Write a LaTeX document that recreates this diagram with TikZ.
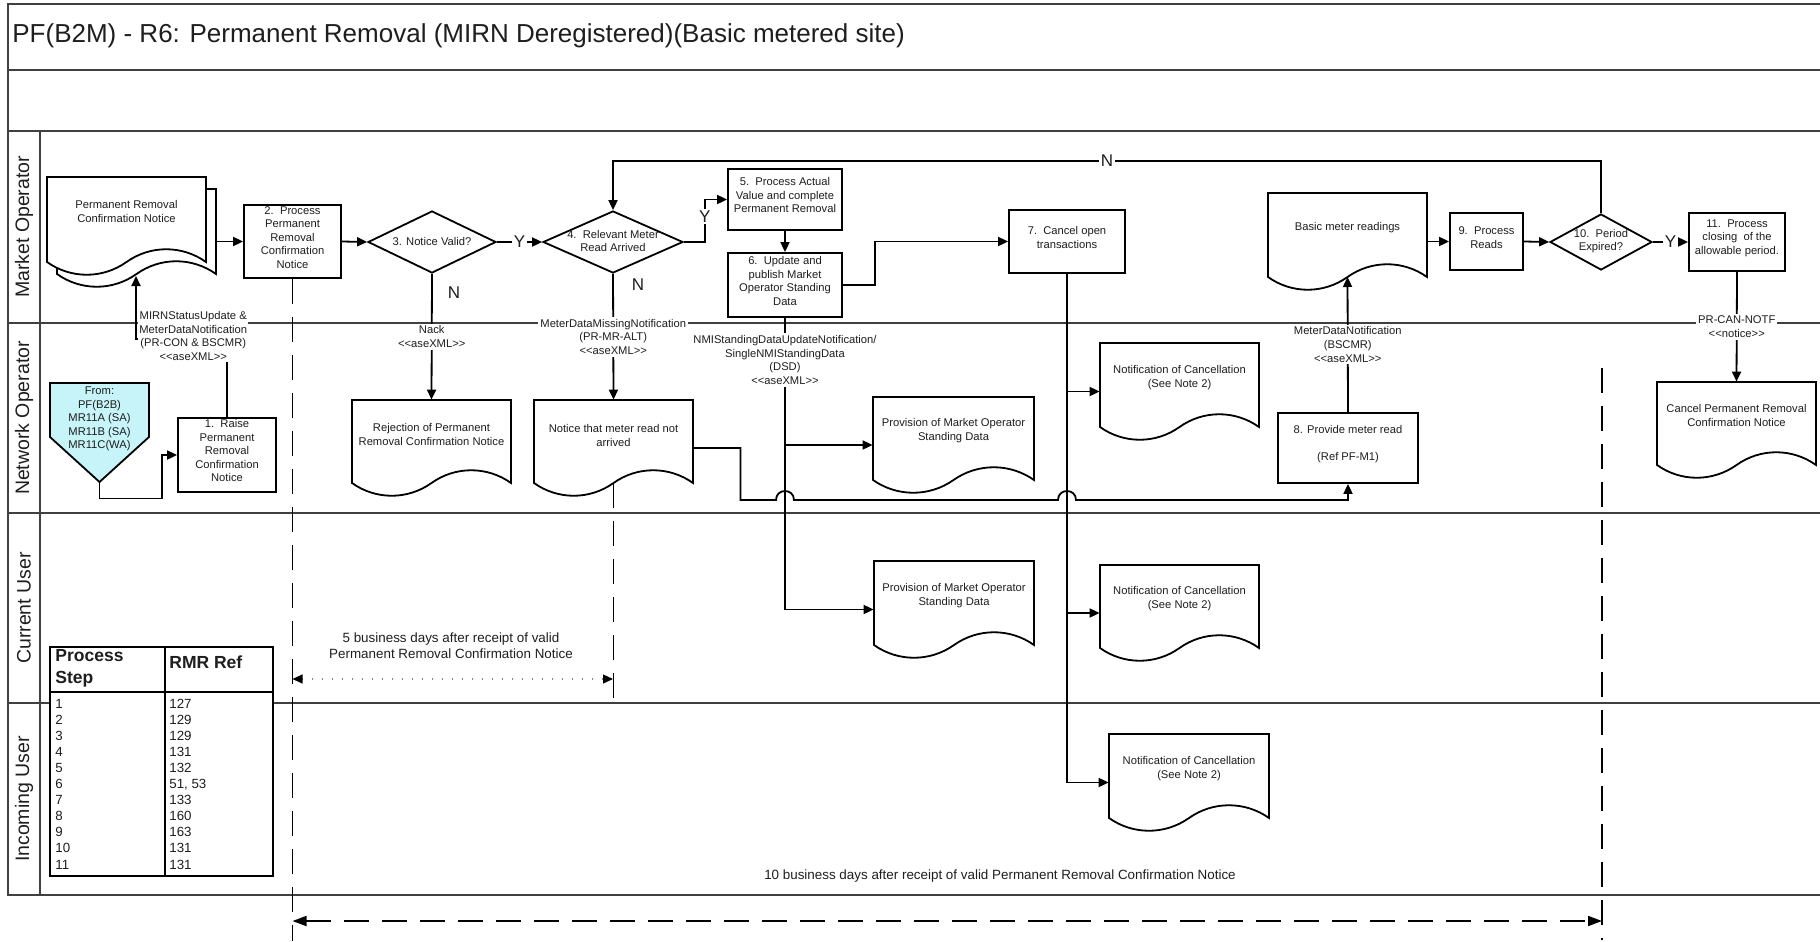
\documentclass[tikz,border=0pt]{standalone}
\usepackage{fontspec}
\setmainfont{Liberation Sans}
\usetikzlibrary{arrows.meta,shapes.geometric,fit,calc}
\definecolor{framegray}{RGB}{64,64,64}
\definecolor{offcyan}{RGB}{198,244,248}
\definecolor{txtc}{RGB}{30,30,30}
\newcommand\LL{<\kern0pt<}
\newcommand\GG{>\kern0pt>}
\newcommand\fTitle{\fontsize{13pt}{15pt}\selectfont}
\newcommand\fLane{\fontsize{9.75pt}{11pt}\selectfont}
\newcommand\fBox{\fontsize{5.6pt}{6.75pt}\selectfont}
\newcommand\fLbl{\fontsize{5.6pt}{6.85pt}\selectfont}
\newcommand\fDoc{\fontsize{5.6pt}{7pt}\selectfont}
\newcommand\fNote{\fontsize{6.7pt}{8pt}\selectfont}
\newcommand\fYN{\fontsize{8.5pt}{9pt}\selectfont}
\newcommand\fTh{\bfseries\fontsize{8.75pt}{11pt}\selectfont}
\newcommand\fTd{\fontsize{6.65pt}{8.05pt}\selectfont}
\tikzset{
  frameline/.style={line width=1.4pt, draw=framegray},
  shp/.style={draw=black, line width=0.9pt, fill=white},
  box/.style={shp, rectangle, inner sep=0pt, align=center, font=\fBox, text=txtc},
  dia/.style={shp, diamond, inner sep=0pt},
  dtxt/.style={inner sep=0pt, align=center, font=\fDoc, text=txtc},
  conn/.style={line width=0.9pt, draw=black},
  arr/.style={conn, -{Triangle[length=5pt,width=4.5pt]}},
  lbl/.style={fill=white, inner sep=1pt, align=center, font=\fLbl, text=txtc},
  yn/.style={fill=white, inner sep=1pt, font=\fYN, text=txtc},
  timeline/.style={line width=0.9pt, draw=black, dash pattern=on 12.5pt off 6.5pt},
  lane/.style={rotate=90, font=\fLane, text=txtc},
}
% name, x1, y1, x2, ybottom, text y, text
\newcommand\docu[7]{%
  \draw[shp] (#2,#3) -- (#4,#3) -- (#4,#5)
    .. controls ({#4-0.15*(#4-#2)},{#5-17}) and ({#4-0.35*(#4-#2)},{#5-17}) .. ({(#2+#4)/2},#5)
    .. controls ({#2+0.35*(#4-#2)},{#5+17}) and ({#2+0.15*(#4-#2)},{#5+17}) .. (#2,#5) -- cycle;
  \node[fit={(#2,#3) (#4,{#5+13})}, inner sep=0pt] (#1) {};
  \coordinate (#1-b) at ({(#2+#4)/2},#5);
  \node[dtxt] (#1-t) at ({(#2+#4)/2},#6) {#7};
}
\begin{document}
\begin{tikzpicture}[x=0.5pt,y=-0.5pt]
\useasboundingbox (0,0) rectangle (1820,942);

% ---------- frame and lanes ----------
\draw[frameline] (1820,4) -- (8,4) -- (8,895) -- (1820,895);
\draw[frameline] (8,70) -- (1820,70);
\draw[frameline] (8,131) -- (1820,131);
\draw[frameline] (8,323) -- (1820,323);
\draw[frameline] (8,513) -- (1820,513);
\draw[frameline] (8,703) -- (1820,703);
\draw[frameline] (40,131) -- (40,895);

\node[anchor=west, inner sep=0pt, font=\fTitle, text=txtc] (title) at (12,36)
  {PF(B2M) - R6: Permanent Removal (MIRN Deregistered)(Basic metered site)};
\node[lane] (lmo) at (24,227) {Market Operator};
\node[lane] (lno) at (24,418) {Network Operator};
\node[lane] (lcu) at (24,608) {Current User};
\node[lane] (liu) at (24,799) {Incoming User};

% ---------- Market Operator lane ----------
\docu{mdback}{57}{189}{216}{274}{225}{}
\docu{md}{47}{177}{206}{262}{211}{Permanent Removal\\Confirmation Notice}
\node[box, fit={(244,205) (341,278)}] (b2) {2.~~Process\\Permanent\\Removal\\Confirmation\\Notice};
\node[dia, minimum width=64pt, minimum height=31pt] (d3) at (432,242) {};
\node[dtxt, font=\fBox] (d3t) at (432,241) {3. Notice Valid?};
\node[dia, minimum width=70pt, minimum height=31pt] (d4) at (613,242) {};
\node[dtxt, font=\fBox] (d4t) at (613,241) {4.~~Relevant Meter\\Read Arrived};
\node[box, fit={(728,169) (842,230)}] (b5) {5.~~Process Actual\\Value and complete\\Permanent Removal};
\node[box, fit={(728,253) (842,317)}] (b6) {6.~~Update and\\publish Market\\Operator Standing\\Data};
\node[box, fit={(1009,210) (1125,273)}] (b7) {7.~~Cancel open\\transactions};
\docu{bmr}{1268}{193}{1427}{277}{228}{Basic meter readings}
\node[box, fit={(1450,213) (1523,270)}] (b9) {9.~~Process\\Reads};
\node[dia, minimum width=51pt, minimum height=28pt] (d10) at (1601,242) {};
\node[dtxt, font=\fBox] (d10t) at (1601,241) {10.~~Period\\Expired?};
\node[box, fit={(1689,213) (1785,271)}] (b11) {11.~~Process\\closing~~of the\\allowable period.};

% ---------- Network Operator lane ----------
\draw[shp, fill=offcyan] (50,383) -- (149,383) -- (149,437) -- (99.5,482) -- (50,437) -- cycle;
\node[fit={(50,383) (149,482)}, inner sep=0pt] (op) {};
\node[dtxt, font=\fBox] (opt) at (99.5,419) {From:\\PF(B2B)\\MR11A (SA)\\MR11B (SA)\\MR11C(WA)};
\node[box, fit={(178,418) (276,492)}] (b1) {1.~~Raise\\Permanent\\Removal\\Confirmation\\Notice};
\docu{rej}{352}{400}{511}{483}{434.5}{Rejection of Permanent\\Removal Confirmation Notice}
\docu{nna}{534}{400}{693}{483}{435}{Notice that meter read not\\arrived}
\docu{prova}{873}{397}{1034}{480}{430.5}{Provision of Market Operator\\Standing Data}
\docu{nca}{1100}{343}{1259}{427}{378}{Notification of Cancellation\\(See Note 2)}
\node[box, fit={(1278,413) (1418,483)}] (b8) {8. Provide meter read\\[6.75pt](Ref PF-M1)};
\docu{cancel}{1657}{382}{1816}{465}{415.5}{Cancel Permanent Removal\\Confirmation Notice}

% ---------- Current User lane ----------
\docu{provb}{874}{561}{1034}{645}{596}{Provision of Market Operator\\Standing Data}
\docu{ncb}{1100}{565}{1259}{648}{599}{Notification of Cancellation\\(See Note 2)}

% ---------- Incoming User lane ----------
\docu{ncc}{1109}{734}{1269}{818}{769}{Notification of Cancellation\\(See Note 2)}

% ---------- table ----------
\node[shp, fit={(50,647) (273,876)}, inner sep=0pt] (tbl) {};
\draw[conn] (165,647) -- (165,876);
\draw[conn] (50,692) -- (273,692);
\node[anchor=west, inner sep=0pt, align=left, font=\fTh, text=txtc] (th1) at (55,668) {Process\\Step};
\node[anchor=west, inner sep=0pt, font=\fTh, text=txtc] (th2) at (169,662) {RMR Ref};
\node[anchor=west, inner sep=0pt, align=left, font=\fTd, text=txtc] (tc1) at (55,784)
  {1\\2\\3\\4\\5\\6\\7\\8\\9\\10\\11};
\node[anchor=west, inner sep=0pt, align=left, font=\fTd, text=txtc] (tc2) at (169,784)
  {127\\129\\129\\131\\132\\51, 53\\133\\160\\163\\131\\131};

% ---------- timelines ----------
\draw[timeline] (b2.south) -- ++(0,662);
\draw[timeline] (nna-b) -- ++(0,217);
\coordinate (l3s) at (1602,368);
\draw[timeline] (l3s) -- ++(0,572);
\coordinate (ta) at (292.5,921);
\coordinate (tb) at (1602,921);
\draw[timeline, {Triangle[length=7pt,width=5pt]}-{Triangle[length=7pt,width=5pt]}] (ta) -- (tb);
\node[font=\fNote, text=txtc] (n10) at (1000,876) {10 business days after receipt of valid Permanent Removal Confirmation Notice};
\coordinate (da) at (292.5,679);
\coordinate (db) at (613,679);
\draw[line width=0.6pt, draw=gray, dash pattern=on 0.6pt off 4.4pt,
  {Triangle[length=5pt,width=4.5pt,color=black]}-{Triangle[length=5pt,width=4.5pt,color=black]}] (da) -- (db);
\node[font=\fNote, align=center, text=txtc] (n5) at (451,646) {5 business days after receipt of valid\\Permanent Removal Confirmation Notice};

% ---------- connectors ----------
\draw[arr] (mdback.east |- b2.west) -- (b2.west);
\draw[arr] (b2.east) -- (d3.west);
\draw[arr] (d3.east) -- node[yn]{Y} (d4.west);
\draw[arr] (d4.east) -- ++(21,0) |- node[yn, pos=0.3]{Y} (b5.west);
\draw[arr] (b5.south) -- (b6.north);
\draw[arr] (b6.east) -- ++(32,0) |- (b7.west);
\draw[arr] (bmr.east |- b9.west) -- (b9.west);
\draw[arr] (b9.east) -- (d10.west);
\draw[arr] (d10.east) -- node[yn]{Y} (b11.west);
\draw[arr] (d10.north) -- ++(0,-52) -| node[yn, pos=0.25]{N} (d4.north);
\draw[arr] (b11.south) -- node[lbl]{PR-CAN-NOTF\\\LL notice\GG} (cancel.north);

\coordinate (mdin) at (136,276);
\draw[arr] (b1.north) -- ++(0,-78) -| (mdin);
\node[lbl, anchor=west, inner sep=0.5pt] (lmirn) at (138,336) {MIRNStatusUpdate \&\\MeterDataNotification\\(PR-CON \& BSCMR)\\\LL aseXML\GG};
\draw[arr] (op.south) -- ++(0,16) -- ++(62.5,0) |- (b1.west);

\draw[arr] (d3.south) -- node[lbl]{Nack\\\LL aseXML\GG} (rej.north);
\node[yn, fill=none] (n3) at (454,293) {N};
\draw[arr] (d4.south) -- node[lbl]{MeterDataMissingNotification\\(PR-MR-ALT)\\\LL aseXML\GG} (nna.north);
\node[yn, fill=none] (n4) at (638,285) {N};

\draw[arr] (b6.south) |- (provb.west);
\draw[arr] (b6.south |- prova.west) -- (prova.west);
\node[lbl] (lnmi) at (785,360) {NMIStandingDataUpdateNotification/\\SingleNMIStandingData\\(DSD)\\\LL aseXML\GG};

\draw[arr] (b7.south) |- (ncc.west);
\draw[arr] (b7.south |- nca.west) -- (nca.west);
\draw[arr] (b7.south |- ncb.west) -- (ncb.west);

\draw[arr] (nna.east) -- ++(47,0) -- ++(0,52) -- (776,500)
  .. controls (776,488) and (794,488) .. (794,500) -- (1058,500)
  .. controls (1058,488) and (1076,488) .. (1076,500) -| (b8.south);
\draw[arr] (b8.north) -- node[lbl]{MeterDataNotification\\(BSCMR)\\\LL aseXML\GG} (bmr-b);
\end{tikzpicture}
\end{document}
